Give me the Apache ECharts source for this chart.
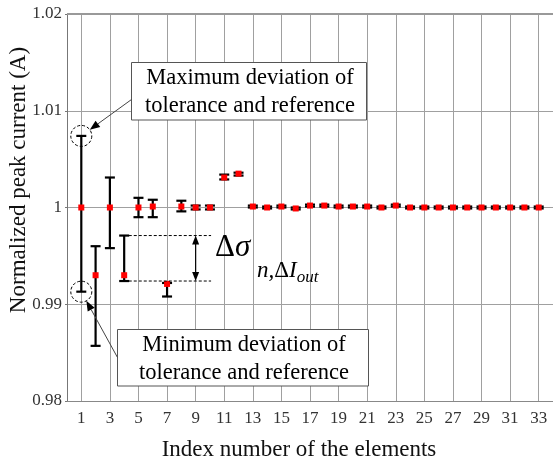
<!DOCTYPE html>
<html><head><meta charset="utf-8">
<script src="https://cdn.jsdelivr.net/npm/echarts@6/dist/echarts.min.js"></script>
<style>html,body{margin:0;padding:0;background:#fff}#c{width:553px;height:466px}</style>
</head><body><div id="c"></div>
<script>
// ---- data ----
const xCategories = ['0','1','2','3','4','5','6','7','8','9','10','11','12','13','14','15','16','17','18','19','20','21','22','23','24','25','26','27','28','29','30','31','32','33','34'];
const indices = [1,2,3,4,5,6,7,8,9,10,11,12,13,14,15,16,17,18,19,20,21,22,23,24,25,26,27,28,29,30,31,32,33];
const meanValues = [1.0000,0.9930,1.0000,0.9930,1.0000,1.0001,0.9921,1.0001,1.0000,1.0000,1.0031,1.0035,1.0001,1.0000,1.0001,0.9999,1.0002,1.0002,1.0001,1.0001,1.0001,1.0000,1.0002,1.0000,1.0000,1.0000,1.0000,1.0000,1.0000,1.0000,1.0000,1.0000,1.0000];
const upperValues = [1.0074,0.9960,1.0031,0.9971,1.0010,1.0008,0.9922,1.0007,1.0002,1.0002,1.0034,1.0036,1.0002,1.0001,1.0002,1.0000,1.0003,1.0003,1.0002,1.0002,1.0002,1.0001,1.0003,1.0001,1.0001,1.0001,1.0001,1.0001,1.0001,1.0001,1.0001,1.0001,1.0001];
const lowerValues = [0.9913,0.9857,0.9958,0.9924,0.9990,0.9990,0.9908,0.9996,0.9998,0.9998,1.0029,1.0033,1.0000,0.9999,1.0000,0.9998,1.0001,1.0001,1.0000,1.0000,1.0000,0.9999,1.0001,0.9999,0.9999,0.9999,0.9999,0.9999,0.9999,0.9999,0.9999,0.9999,0.9999];
const yTickLabels = ['0.98','0.99','1','1.01','1.02'];

const FONT = 'Liberation Serif';
const chart = echarts.init(document.getElementById('c'), null, {renderer:'canvas'});

function renderErr(params, api){
  const x = api.value(0);
  const lo = api.coord([x, api.value(1)]);
  const hi = api.coord([x, api.value(2)]);
  const hw = 5, st = {stroke:'#000', lineWidth:2.2};
  return {type:'group', children:[
    {type:'line', shape:{x1:hi[0],y1:hi[1],x2:lo[0],y2:lo[1]}, style:st},
    {type:'line', shape:{x1:hi[0]-hw,y1:hi[1],x2:hi[0]+hw,y2:hi[1]}, style:st},
    {type:'line', shape:{x1:lo[0]-hw,y1:lo[1],x2:lo[0]+hw,y2:lo[1]}, style:st}
  ]};
}

chart.setOption({
  animation:false,
  backgroundColor:'#fff',
  grid:{left:67, top:14, width:488, height:387, containLabel:false},
  xAxis:{
    type:'category', data:xCategories, boundaryGap:false,
    axisLine:{show:true, lineStyle:{color:'#888', width:1}},
    axisTick:{show:false},
    axisLabel:{interval:(i)=> i%2===1, fontFamily:FONT, fontSize:17, color:'#333', margin:9},
    splitLine:{show:true, interval:(i)=> i%2===1, lineStyle:{color:'#a0a0a0', width:1}}
  },
  yAxis:{
    type:'value', min:0.98, max:1.02, interval:0.01,
    axisLine:{show:true, lineStyle:{color:'#777', width:1}},
    axisTick:{show:true, length:2, lineStyle:{color:'#777'}},
    axisLabel:{fontFamily:FONT, fontSize:17, color:'#333', margin:5,
      formatter:(v)=>{ const k = Math.round((v-0.98)/0.01); return yTickLabels[k]; }},
    splitLine:{show:true, lineStyle:{color:'#a0a0a0', width:1}}
  },
  series:[
    {type:'custom', renderItem:renderErr, encode:{x:0, y:[1,2]},
     data: indices.map((k,i)=>[k, lowerValues[i], upperValues[i]]), z:5},
    {type:'scatter', symbol:'rect', symbolSize:6, itemStyle:{color:'#ff0000', opacity:1},
     data: indices.map((k,i)=>[k, meanValues[i]]), z:10}
  ]
});

// ---- annotations anchored to the data scale ----
function px(k, v){ return chart.convertToPixel({gridIndex:0}, [k, v]); }
const p1 = px(1, 1), p2 = px(2, 1);
const step = p2[0]-p1[0];
function pxf(k, v){ const a = px(1, v); return [a[0] + (k-1)*step, a[1]]; }
const mctx = document.createElement('canvas').getContext('2d');
function tw(font, s){ mctx.font = font; return mctx.measureText(s).width; }

const g = [];
// thicker top frame line at the axis max
const tl = px(0, 1.02), tr = px(34, 1.02);
g.push({type:'line', shape:{x1:tl[0], y1:tl[1], x2:tr[0], y2:tr[1]}, style:{stroke:'#999', lineWidth:2}, z:4});

const R = 10.5;
const cUp = px(1, upperValues[0]);
const cLo = px(1, lowerValues[0]);
[cUp, cLo].forEach(c=>g.push({type:'circle', shape:{cx:c[0], cy:c[1], r:R},
  style:{fill:'none', stroke:'#000', lineWidth:1, lineDash:[3,2]}, z:20}));

function arrow(from, to, color, len, hw){
  const dx = to[0]-from[0], dy = to[1]-from[1];
  const L = Math.hypot(dx,dy), ux = dx/L, uy = dy/L;
  const bx = to[0]-ux*len, by = to[1]-uy*len;
  g.push({type:'line', shape:{x1:from[0],y1:from[1],x2:bx,y2:by}, style:{stroke:color, lineWidth:1}, z:20});
  g.push({type:'polygon', shape:{points:[[to[0],to[1]],[bx-uy*hw, by+ux*hw],[bx+uy*hw, by-ux*hw]]}, style:{fill:'#000'}, z:20});
}
function towards(c, p, r){ const dx=p[0]-c[0], dy=p[1]-c[1], L=Math.hypot(dx,dy); return [c[0]+dx/L*r, c[1]+dy/L*r]; }

// boxes
const maxBox = {x:131.5, y:62.5, w:235, h:57.5};
const minBox = {x:117.5, y:329.5, w:251, h:56.5};
[maxBox, minBox].forEach(b=>g.push({type:'rect', shape:{x:b.x,y:b.y,width:b.w,height:b.h},
  style:{fill:'#fff', stroke:'#555', lineWidth:1}, z:15}));
g.push({type:'text', x:maxBox.x+maxBox.w/2+1, y:maxBox.y+maxBox.h/2+1, z:16,
  style:{text:'Maximum deviation of\ntolerance and reference', font:'22.5px "Liberation Serif"', fill:'#000', align:'center', verticalAlign:'middle', lineHeight:28}});
g.push({type:'text', x:minBox.x+minBox.w/2+1, y:minBox.y+minBox.h/2+1, z:16,
  style:{text:'Minimum deviation of\ntolerance and reference', font:'22.5px "Liberation Serif"', fill:'#000', align:'center', verticalAlign:'middle', lineHeight:28}});

const sMax = [maxBox.x, 99.5];
arrow(sMax, towards(cUp, sMax, R), '#444', 10, 4);
const sMin = [minBox.x, 357.5];
arrow(sMin, towards(cLo, sMin, R), '#444', 10, 4);

// dashed reference lines from element 4
const dUp = pxf(4.32, upperValues[3]), dUpEnd = pxf(10.08, upperValues[3]);
const dLo = pxf(4.32, lowerValues[3]), dLoEnd = pxf(10.08, lowerValues[3]);
[[dUp,dUpEnd],[dLo,dLoEnd]].forEach(([a,b])=>g.push({type:'line', shape:{x1:a[0],y1:a[1],x2:b[0],y2:b[1]},
  style:{stroke:'#000', lineWidth:1, lineDash:[3,2]}, z:20}));
// double arrow
const aTop = pxf(9, upperValues[3]), aBot = pxf(9, lowerValues[3]);
g.push({type:'line', shape:{x1:aTop[0],y1:aTop[1]+8,x2:aBot[0],y2:aBot[1]-8}, style:{stroke:'#000', lineWidth:1.2}, z:20});
g.push({type:'polygon', shape:{points:[[aTop[0],aTop[1]],[aTop[0]-3.5,aTop[1]+9],[aTop[0]+3.5,aTop[1]+9]]}, style:{fill:'#000'}, z:20});
g.push({type:'polygon', shape:{points:[[aBot[0],aBot[1]],[aBot[0]-3.5,aBot[1]-9],[aBot[0]+3.5,aBot[1]-9]]}, style:{fill:'#000'}, z:20});

// delta sigma label
g.push({type:'text', x:215, y:263, z:21, style:{text:'{u|Δ}{i|σ}', verticalAlign:'bottom', align:'left',
  rich:{u:{fontFamily:FONT, fontSize:31, fill:'#000'}, i:{fontFamily:FONT, fontSize:31, fontStyle:'italic', fill:'#000'}}}});
const subX = 257;
g.push({type:'text', x:subX, y:282, z:21, style:{text:'{i|n,}{u|Δ}{i|I}', verticalAlign:'bottom', align:'left',
  rich:{u:{fontFamily:FONT, fontSize:23, fill:'#000'}, i:{fontFamily:FONT, fontSize:23, fontStyle:'italic', fill:'#000'}}}});
const subW = tw('italic 23px "Liberation Serif"', 'n,') + tw('23px "Liberation Serif"', 'Δ') + tw('italic 23px "Liberation Serif"', 'I');
g.push({type:'text', x:subX+subW, y:286, z:21, style:{text:'out', font:'italic 17px "Liberation Serif"', fill:'#000', align:'left', verticalAlign:'bottom'}});

// axis titles
g.push({type:'text', x:19, y:180, rotation:Math.PI/2, z:21, style:{text:'Normalized peak current (A)', font:'23px "Liberation Serif"', fill:'#111', align:'center', verticalAlign:'middle'}});
g.push({type:'text', x:299, y:450, z:21, style:{text:'Index number of the elements', font:'23px "Liberation Serif"', fill:'#111', align:'center', verticalAlign:'middle'}});

chart.setOption({graphic:{elements:g}});
</script></body></html>
